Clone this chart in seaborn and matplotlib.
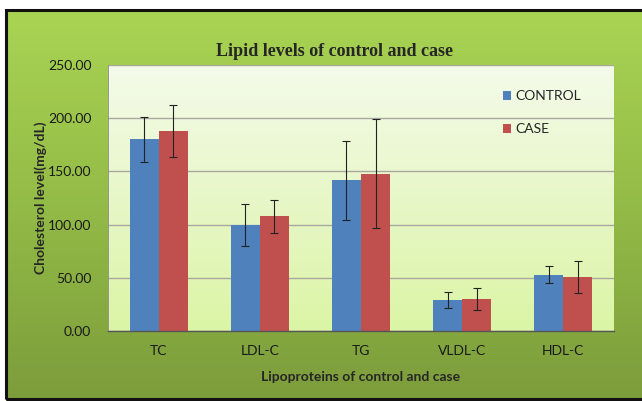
import matplotlib
matplotlib.use('Agg')
import matplotlib.pyplot as plt
import numpy as np
import pandas as pd
import seaborn as sns
from matplotlib.patches import Rectangle
from matplotlib.colors import LinearSegmentedColormap

# data
categories = ['TC', 'LDL-C', 'TG', 'VLDL-C', 'HDL-C']
control_mean = [180.0, 99.5, 141.5, 29.0, 53.0]
control_sd = [21.0, 20.0, 37.5, 7.3, 7.7]
case_mean = [188.0, 108.0, 148.0, 30.0, 51.0]
case_sd = [24.0, 15.5, 51.5, 10.0, 15.0]
groups = ['CONTROL', 'CASE']

BLUE = '#4f81bd'
RED = '#c0504d'
SANS = ['Lato', 'DejaVu Sans']

df = pd.DataFrame({
    'Lipoprotein': categories * 2,
    'Group': ['CONTROL'] * len(categories) + ['CASE'] * len(categories),
    'Value': control_mean + case_mean,
})
sds = {'CONTROL': control_sd, 'CASE': case_sd}

sns.set_style('white')
plt.rcParams['font.family'] = SANS

fig = plt.figure(figsize=(6.42, 4.01), dpi=100)
fig.patch.set_facecolor('white')

# green gradient background inside the black frame
bg = fig.add_axes([6 / 642, 0, 1, 391 / 401], zorder=-10)
grad = np.linspace(0, 1, 256).reshape(-1, 1)
gcm = LinearSegmentedColormap.from_list('g', ['#a9d453', '#93bb47', '#7c9c3b'])
bg.imshow(grad, aspect='auto', cmap=gcm, extent=[0, 1, 0, 1], origin='upper')
bg.set_axis_off()
fig.patches.append(Rectangle((6 / 642, 2 / 401), 1.0, 389 / 401, transform=fig.transFigure,
                             fill=False, edgecolor='#111111', linewidth=2.2, zorder=20))

ax = fig.add_axes([108 / 642, 70 / 401, 506 / 642, 266 / 401])
# plot-area gradient
pcm = LinearSegmentedColormap.from_list('p', ['#f4fbea', '#e8f7c8', '#dbf5a5'])
ax.imshow(grad, aspect='auto', cmap=pcm, extent=[-0.5, 4.5, 250, 0], origin='lower', zorder=0)

sns.barplot(data=df, x='Lipoprotein', y='Value', hue='Group', order=categories,
            hue_order=groups, palette=[BLUE, RED], errorbar=None, width=0.574,
            gap=0, saturation=1, ax=ax, zorder=2, edgecolor='none')

for cont, g in zip(ax.containers, groups):
    xs = [p.get_x() + p.get_width() / 2 for p in cont]
    ys = [p.get_height() for p in cont]
    ax.errorbar(xs, ys, yerr=sds[g], fmt='none', ecolor='#222222', elinewidth=0.8,
                capsize=3, capthick=0.8, zorder=3)

ax.set_xlim(-0.5, 4.5)
ax.set_ylim(0, 250)
ax.set_yticks([0, 50, 100, 150, 200, 250])
ax.set_yticklabels([f'{v:.2f}' for v in [0, 50, 100, 150, 200, 250]], fontsize=10, color='#1a1a1a')
ax.set_xticks(range(len(categories)))
ax.set_xticklabels(categories, fontsize=10, color='#1a1a1a')
ax.tick_params(axis='y', length=0, pad=12)
ax.tick_params(axis='x', length=0, pad=10)
ax.grid(axis='y', color='#a8a8a0', linewidth=1.0, zorder=1)
ax.set_axisbelow(True)
for s in ['top', 'right']:
    ax.spines[s].set_visible(False)
ax.spines['bottom'].set_color('#555555')
ax.spines['bottom'].set_linewidth(1.0)
ax.spines['left'].set_color('#888888')
ax.spines['left'].set_linewidth(0.6)

ax.set_xlabel('Lipoproteins of control and case', fontsize=10, fontweight='bold', labelpad=10)
ax.set_ylabel('Cholesterol level(mg/dL)', fontsize=10, fontweight='bold')
ax.yaxis.set_label_coords(-0.12, 0.5)

fig.text(335 / 642, 1 - 52 / 401, 'Lipid levels of control and case', ha='center', va='center',
         fontsize=13, fontweight='bold', family=['Liberation Serif', 'DejaVu Serif'])

handles, labels = ax.get_legend_handles_labels()
ax.legend(handles, labels, loc='upper left', bbox_to_anchor=(490 / 642, 1 - 78 / 401),
          bbox_transform=fig.transFigure, frameon=False, fontsize=10,
          handlelength=0.6, handleheight=0.6, handletextpad=0.3, labelspacing=1.5)

fig.savefig('out.png', dpi=100)
